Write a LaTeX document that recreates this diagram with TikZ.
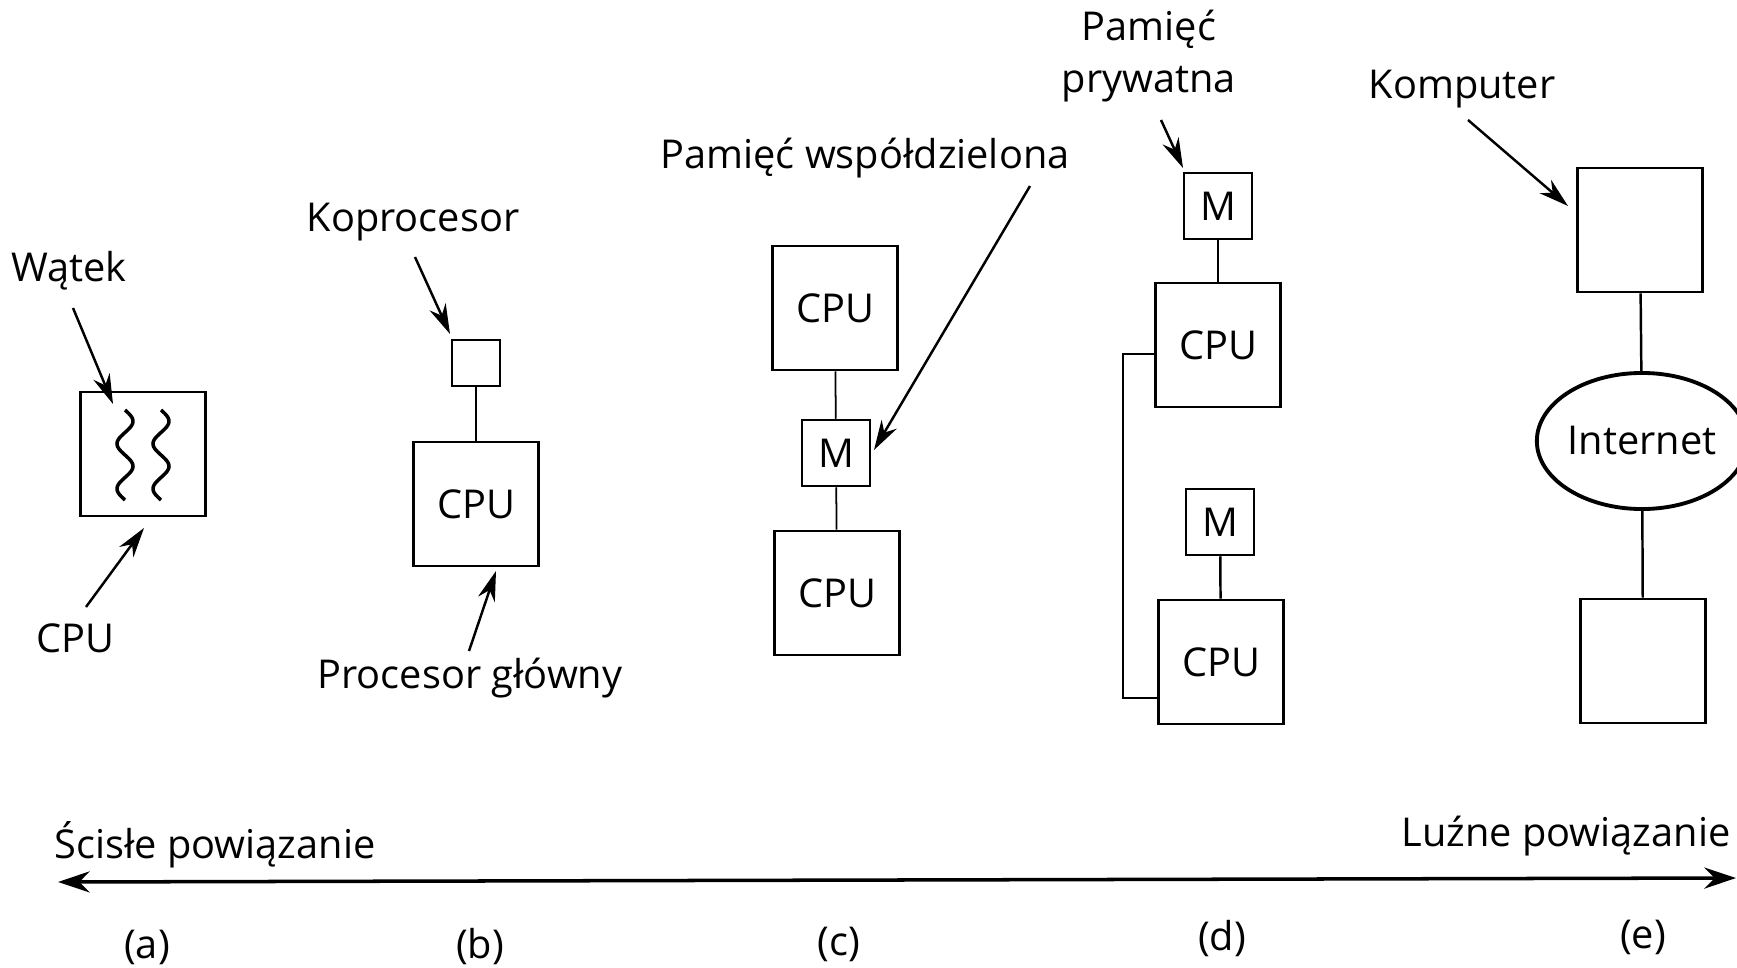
\documentclass[tikz,border=0pt]{standalone}
\usepackage{fontspec}
\setmainfont{Open Sans}
\usetikzlibrary{arrows.meta,shapes.geometric}

\begin{document}
\begin{tikzpicture}[x=0.01cm,y=-0.01cm,font=\fontsize{11.3}{15}\selectfont,
  unit/.style={draw,line width=0.7pt,minimum width=1.25cm,minimum height=1.24cm,inner sep=0pt},
  mem/.style={draw,line width=0.7pt,minimum width=0.68cm,minimum height=0.66cm,inner sep=0pt},
  ptr/.style={-{Stealth[length=8.5pt,width=5pt]},line width=0.7pt},
  wire/.style={line width=0.7pt}]
\useasboundingbox (0,0) rectangle (1737,967);

% (a) watki w jednym procesorze
\node[unit] (cpuA) at (143,454) {};
\foreach \cx in {125,161}
  \draw[line width=1pt] plot[domain=0:720,samples=60,smooth] ({\cx+8*sin(\x)},{410+\x/720*90});
\node (watek) at (69,271) {Wątek};
\coordinate (watekFrom) at (73,308); \coordinate (watekTip) at (113,404);
\draw[ptr] (watekFrom) -- (watekTip);
\node (cpuLbl) at (75,638) {CPU};
\coordinate (cpuFrom) at (86,607); \coordinate (cpuTip) at (144,528);
\draw[ptr] (cpuFrom) -- (cpuTip);

% (b) koprocesor
\node[draw,line width=0.7pt,minimum width=0.48cm,minimum height=0.46cm,inner sep=0pt] (kop) at (476,363) {};
\node[unit] (cpuB) at (476,504) {CPU};
\draw[wire] (kop) -- (cpuB);
\node (kopLbl) at (413,222) {Koprocesor};
\coordinate (kopFrom) at (415,257); \coordinate (kopTip) at (450,334);
\draw[ptr] (kopFrom) -- (kopTip);
\node (glLbl) at (470,678) {Procesor główny};
\coordinate (glFrom) at (469,651); \coordinate (glTip) at (496,571);
\draw[ptr] (glFrom) -- (glTip);

% (c) pamiec wspoldzielona
\node[unit] (cpuC1) at (835,308) {CPU};
\node[mem] (memC) at (836,453) {M};
\node[unit] (cpuC2) at (837,593) {CPU};
\draw[line width=0.5pt] (cpuC1) -- (memC);
\draw[line width=0.5pt] (memC) -- (cpuC2);
\node (wspLbl) at (865,158) {Pamięć współdzielona};
\coordinate (wspFrom) at (1030,186); \coordinate (wspTip) at (874,450);
\draw[ptr] (wspFrom) -- (wspTip);

% (d) pamiec prywatna
\node[mem] (memD1) at (1218,206) {M};
\node[unit] (cpuD1) at (1218,345) {CPU};
\node[mem] (memD2) at (1220,522) {M};
\node[unit] (cpuD2) at (1221,662) {CPU};
\draw[wire] (memD1) -- (cpuD1);
\draw[wire] (memD2) -- (cpuD2);
\draw[wire] (cpuD1.west |- 0,354) -- (1123,354) -- (1123,698) -- (cpuD2.west |- 0,698);
\node[align=center] (prvLbl) at (1149,56) {Pamięć\\prywatna};
\coordinate (prvFrom) at (1161,120); \coordinate (prvTip) at (1183,168);
\draw[ptr] (prvFrom) -- (prvTip);

% (e) komputery w sieci
\node[unit] (pcE1) at (1640,230) {};
\node[draw,ellipse,line width=1.1pt,minimum width=1.84cm,minimum height=1.36cm,inner sep=0pt] (net) at (1642,441) {Internet};
\node[unit] (pcE2) at (1643,661) {};
\draw[wire] (pcE1) -- (net);
\draw[wire] (net) -- (pcE2);
\node (kompLbl) at (1462,89) {Komputer};
\coordinate (kompFrom) at (1468,120); \coordinate (kompTip) at (1568,206);
\draw[ptr] (kompFrom) -- (kompTip);

% os powiazania
\node (tight) at (215,845) {Ścisłe powiązanie};
\node (loose) at (1566,836) {Luźne powiązanie};
\coordinate (axL) at (58,882); \coordinate (axR) at (1736,878);
\draw[{Stealth[length=9pt,width=6pt]}-{Stealth[length=9pt,width=6pt]},line width=1pt] (axL) -- (axR);
\node (a) at (147,947) {(a)};
\node (b) at (480,947) {(b)};
\node (c) at (839,944) {(c)};
\node (d) at (1222,939) {(d)};
\node (e) at (1643,937) {(e)};

\end{tikzpicture}
\end{document}
